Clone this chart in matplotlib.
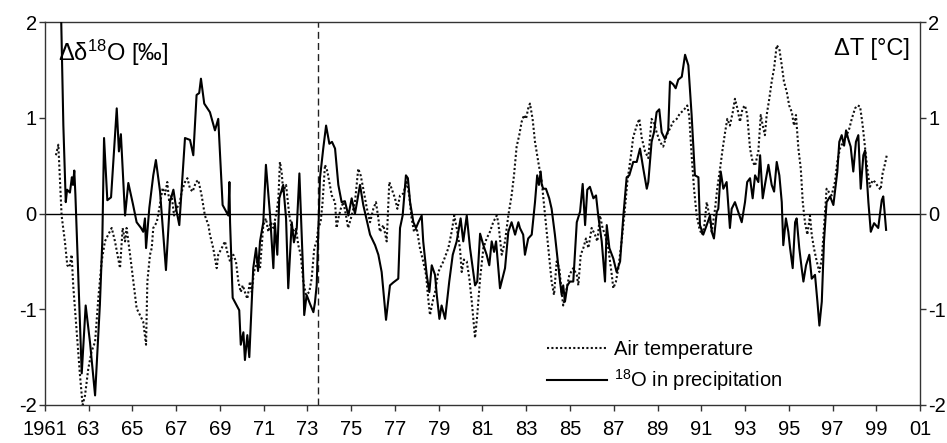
import matplotlib
matplotlib.use("Agg")
import matplotlib.pyplot as plt

plt.rcParams["font.family"] = ["Liberation Sans", "DejaVu Sans"]
plt.rcParams["mathtext.fontset"] = "custom"
plt.rcParams["mathtext.rm"] = "Liberation Sans"

# 18O in precipitation (deviation, permil)
o18_years = [
    1961.62, 1961.69, 1961.84, 1961.95, 1962.01, 1962.14, 1962.23, 1962.28, 1962.34, 1962.39,
    1962.68, 1962.86, 1963.06, 1963.29, 1963.51, 1963.62, 1963.70, 1963.85, 1964.02, 1964.28,
    1964.38, 1964.47, 1964.66, 1964.81, 1965.02, 1965.19, 1965.39, 1965.49, 1965.57, 1965.62,
    1965.77, 1965.95, 1966.07, 1966.26, 1966.53, 1966.71, 1966.87, 1967.02, 1967.14, 1967.29,
    1967.40, 1967.63, 1967.78, 1967.93, 1968.05, 1968.13, 1968.28, 1968.54, 1968.77, 1968.92,
    1969.12, 1969.38, 1969.43, 1969.46, 1969.58, 1969.88, 1969.95, 1970.07, 1970.14, 1970.25,
    1970.34, 1970.52, 1970.65, 1970.74, 1970.83, 1970.98, 1971.10, 1971.29, 1971.44, 1971.51,
    1971.62, 1971.71, 1971.89, 1972.02, 1972.12, 1972.28, 1972.38, 1972.51, 1972.63, 1972.70,
    1972.81, 1972.85, 1972.96, 1973.11, 1973.27, 1973.34, 1973.42, 1973.57, 1973.72, 1973.85,
    1974.00, 1974.12, 1974.26, 1974.41, 1974.56, 1974.71, 1974.87, 1975.02, 1975.17, 1975.28,
    1975.40, 1975.55, 1975.86, 1976.09, 1976.24, 1976.39, 1976.59, 1976.77, 1976.92, 1977.15,
    1977.23, 1977.35, 1977.50, 1977.59, 1977.69, 1977.84, 1977.96, 1978.07, 1978.22, 1978.29,
    1978.45, 1978.57, 1978.68, 1978.83, 1978.91, 1979.03, 1979.13, 1979.29, 1979.36, 1979.48,
    1979.64, 1979.82, 1980.00, 1980.12, 1980.28, 1980.43, 1980.66, 1980.76, 1980.89, 1981.04,
    1981.19, 1981.31, 1981.42, 1981.53, 1981.62, 1981.72, 1981.80, 1982.03, 1982.18, 1982.33,
    1982.49, 1982.64, 1982.71, 1982.86, 1982.94, 1983.09, 1983.25, 1983.40, 1983.50, 1983.58,
    1983.66, 1983.71, 1983.78, 1983.90, 1984.05, 1984.16, 1984.31, 1984.51, 1984.62, 1984.69,
    1984.77, 1984.88, 1985.00, 1985.15, 1985.31, 1985.46, 1985.58, 1985.69, 1985.79, 1985.91,
    1986.07, 1986.19, 1986.29, 1986.45, 1986.60, 1986.68, 1986.80, 1986.98, 1987.13, 1987.29,
    1987.44, 1987.59, 1987.71, 1987.89, 1988.05, 1988.20, 1988.35, 1988.51, 1988.58, 1988.73,
    1988.84, 1988.96, 1989.08, 1989.19, 1989.34, 1989.49, 1989.57, 1989.72, 1989.83, 1989.95,
    1990.11, 1990.26, 1990.41, 1990.56, 1990.71, 1990.87, 1990.94, 1991.09, 1991.25, 1991.40,
    1991.48, 1991.58, 1991.71, 1991.78, 1991.89, 1992.01, 1992.16, 1992.31, 1992.39, 1992.54,
    1992.69, 1992.85, 1993.00, 1993.10, 1993.23, 1993.35, 1993.46, 1993.61, 1993.69, 1993.81,
    1993.91, 1994.07, 1994.22, 1994.33, 1994.45, 1994.57, 1994.68, 1994.75, 1994.87, 1994.98,
    1995.06, 1995.18, 1995.29, 1995.36, 1995.48, 1995.59, 1995.67, 1995.79, 1995.94, 1996.05,
    1996.20, 1996.31, 1996.40, 1996.51, 1996.61, 1996.73, 1996.89, 1997.04, 1997.22, 1997.31,
    1997.42, 1997.53, 1997.62, 1997.72, 1997.83, 1997.95, 1998.07, 1998.18, 1998.29, 1998.41,
    1998.49, 1998.64, 1998.75, 1998.90, 1999.09, 1999.25, 1999.32, 1999.45,
]
o18_values = [
    2.60, 2.60, 0.92, 0.12, 0.25, 0.22, 0.38, 0.30, 0.45, 0.20,
    -1.67, -0.96, -1.35, -1.90, -0.95, -0.29, 0.79, 0.14, 0.17, 1.10,
    0.65, 0.83, -0.02, 0.32, 0.10, -0.09, -0.15, -0.19, -0.05, -0.36,
    0.06, 0.40, 0.56, 0.23, -0.59, 0.12, 0.25, 0.02, -0.12, 0.40,
    0.79, 0.77, 0.61, 1.24, 1.26, 1.41, 1.15, 1.06, 0.87, 0.99,
    0.09, -0.02, 0.33, -0.09, -0.88, -1.01, -1.37, -1.24, -1.53, -1.27,
    -1.50, -0.57, -0.36, -0.60, -0.29, -0.09, 0.51, -0.02, -0.57, -0.10,
    -0.43, 0.16, 0.30, -0.05, -0.78, -0.09, -0.30, -0.15, 0.42, 0.00,
    -0.68, -1.06, -0.85, -0.94, -1.03, -0.93, -0.75, 0.37, 0.68, 0.92,
    0.73, 0.75, 0.68, 0.30, 0.12, 0.13, -0.02, 0.16, 0.00, 0.14,
    0.30, 0.09, -0.22, -0.33, -0.43, -0.61, -1.11, -0.75, -0.72, -0.68,
    -0.15, -0.02, 0.40, 0.37, 0.12, -0.09, -0.15, -0.09, -0.02, -0.29,
    -0.64, -0.82, -0.54, -0.64, -0.85, -1.10, -0.96, -1.10, -0.96, -0.71,
    -0.43, -0.29, -0.05, -0.29, -0.02, -0.36, -0.75, -0.71, -0.21, -0.33,
    -0.43, -0.54, -0.29, -0.40, -0.29, -0.57, -0.78, -0.57, -0.19, -0.09,
    -0.22, -0.09, -0.15, -0.22, -0.43, -0.26, -0.22, 0.12, 0.40, 0.30,
    0.44, 0.30, 0.26, 0.26, 0.16, 0.05, -0.22, -0.64, -0.85, -0.75,
    -0.92, -0.75, -0.71, -0.71, -0.09, 0.02, 0.31, -0.12, 0.25, 0.28,
    0.16, 0.19, -0.02, -0.29, -0.71, -0.12, -0.36, -0.47, -0.61, -0.50,
    -0.02, 0.38, 0.40, 0.54, 0.54, 0.68, 0.47, 0.26, 0.33, 0.75,
    0.85, 1.06, 1.09, 0.85, 0.78, 0.87, 1.38, 1.35, 1.31, 1.40,
    1.43, 1.66, 1.55, 1.03, 0.40, 0.38, -0.12, -0.22, -0.12, -0.02,
    -0.19, -0.26, 0.02, 0.05, 0.44, 0.26, 0.33, -0.15, 0.05, 0.12,
    0.02, -0.09, 0.12, 0.33, 0.37, 0.16, 0.40, 0.33, 0.61, 0.16,
    0.30, 0.51, 0.30, 0.23, 0.54, 0.40, 0.12, -0.33, -0.05, -0.19,
    -0.36, -0.57, -0.09, -0.05, -0.36, -0.57, -0.71, -0.54, -0.43, -0.68,
    -0.64, -0.92, -1.17, -0.92, -0.29, 0.12, 0.18, 0.09, 0.44, 0.75,
    0.82, 0.71, 0.87, 0.78, 0.70, 0.44, 0.75, 0.82, 0.26, 0.61,
    0.66, 0.12, -0.19, -0.10, -0.15, 0.14, 0.18, -0.17,
]

# Air temperature (deviation, degC)
temp_years = [
    1961.50, 1961.61, 1961.76, 1961.91, 1962.02, 1962.12, 1962.22, 1962.29, 1962.45, 1962.60,
    1962.72, 1962.83, 1962.98, 1963.13, 1963.29, 1963.44, 1963.59, 1963.74, 1963.89, 1964.05,
    1964.20, 1964.35, 1964.43, 1964.55, 1964.66, 1964.73, 1964.89, 1965.04, 1965.19, 1965.34,
    1965.49, 1965.62, 1965.68, 1965.80, 1965.88, 1965.95, 1966.11, 1966.23, 1966.38, 1966.49,
    1966.59, 1966.68, 1966.79, 1966.90, 1967.02, 1967.14, 1967.25, 1967.40, 1967.51, 1967.63,
    1967.75, 1967.90, 1968.01, 1968.16, 1968.31, 1968.47, 1968.54, 1968.69, 1968.85, 1968.92,
    1969.08, 1969.23, 1969.33, 1969.46, 1969.61, 1969.73, 1969.84, 1969.95, 1970.04, 1970.14,
    1970.25, 1970.37, 1970.45, 1970.55, 1970.71, 1970.83, 1970.98, 1971.10, 1971.21, 1971.32,
    1971.44, 1971.59, 1971.67, 1971.74, 1971.82, 1971.89, 1972.02, 1972.17, 1972.32, 1972.47,
    1972.58, 1972.69, 1972.81, 1972.93, 1973.08, 1973.19, 1973.31, 1973.42, 1973.49, 1973.60,
    1973.69, 1973.80, 1973.91, 1974.00, 1974.11, 1974.26, 1974.33, 1974.41, 1974.52, 1974.64,
    1974.76, 1974.86, 1975.02, 1975.17, 1975.32, 1975.43, 1975.55, 1975.71, 1975.86, 1976.01,
    1976.13, 1976.24, 1976.31, 1976.47, 1976.62, 1976.74, 1976.89, 1977.00, 1977.11, 1977.23,
    1977.38, 1977.53, 1977.65, 1977.76, 1977.87, 1977.99, 1978.14, 1978.29, 1978.42, 1978.52,
    1978.60, 1978.72, 1978.83, 1978.98, 1979.21, 1979.44, 1979.59, 1979.71, 1979.82, 1979.97,
    1980.05, 1980.15, 1980.28, 1980.40, 1980.51, 1980.66, 1980.76, 1980.89, 1981.04, 1981.19,
    1981.34, 1981.49, 1981.65, 1981.72, 1981.88, 1982.03, 1982.18, 1982.33, 1982.44, 1982.56,
    1982.68, 1982.79, 1982.90, 1982.99, 1983.09, 1983.17, 1983.29, 1983.40, 1983.55, 1983.71,
    1983.86, 1984.01, 1984.16, 1984.27, 1984.39, 1984.51, 1984.62, 1984.69, 1984.82, 1984.97,
    1985.15, 1985.31, 1985.38, 1985.49, 1985.61, 1985.73, 1985.84, 1985.99, 1986.14, 1986.25,
    1986.37, 1986.49, 1986.60, 1986.75, 1986.91, 1986.98, 1987.10, 1987.21, 1987.36, 1987.51,
    1987.62, 1987.77, 1987.89, 1988.05, 1988.17, 1988.28, 1988.43, 1988.58, 1988.73, 1988.84,
    1988.96, 1989.11, 1989.26, 1989.42, 1989.57, 1989.72, 1989.88, 1990.03, 1990.15, 1990.26,
    1990.36, 1990.45, 1990.56, 1990.67, 1990.79, 1990.91, 1991.02, 1991.13, 1991.25, 1991.37,
    1991.48, 1991.63, 1991.73, 1991.86, 1991.98, 1992.09, 1992.19, 1992.31, 1992.44, 1992.54,
    1992.65, 1992.77, 1992.89, 1993.00, 1993.10, 1993.23, 1993.35, 1993.46, 1993.61, 1993.72,
    1993.81, 1993.91, 1993.99, 1994.11, 1994.22, 1994.33, 1994.45, 1994.57, 1994.68, 1994.78,
    1994.91, 1995.02, 1995.14, 1995.24, 1995.33, 1995.44, 1995.55, 1995.64, 1995.74, 1995.85,
    1995.97, 1996.05, 1996.15, 1996.28, 1996.40, 1996.51, 1996.61, 1996.73, 1996.85, 1996.96,
    1997.11, 1997.22, 1997.34, 1997.49, 1997.65, 1997.77, 1997.88, 1998.03, 1998.14, 1998.26,
    1998.38, 1998.49, 1998.59, 1998.71, 1998.84, 1998.94, 1999.09, 1999.20, 1999.29, 1999.40,
    1999.48,
]
temp_values = [
    0.61, 0.72, -0.02, -0.29, -0.54, -0.56, -0.43, -0.75, -1.24, -1.69,
    -2.00, -1.90, -1.62, -1.44, -1.34, -0.88, -0.50, -0.29, -0.22, -0.15,
    -0.29, -0.47, -0.57, -0.15, -0.29, -0.15, -0.43, -0.71, -0.99, -1.06,
    -1.13, -1.37, -0.71, -0.43, -0.36, -0.15, -0.09, 0.06, 0.27, 0.20,
    0.33, 0.12, 0.19, -0.02, 0.06, 0.09, 0.23, 0.33, 0.37, 0.26,
    0.23, 0.33, 0.35, 0.19, -0.02, -0.12, -0.22, -0.36, -0.57, -0.43,
    -0.36, -0.29, -0.40, -0.50, -0.43, -0.50, -0.71, -0.82, -0.75, -0.82,
    -0.89, -0.71, -0.82, -0.61, -0.50, -0.57, -0.12, -0.05, -0.19, -0.09,
    -0.15, 0.02, 0.16, 0.54, 0.43, 0.23, 0.30, -0.02, -0.19, -0.15,
    -0.33, -0.43, -0.71, -0.85, -0.82, -0.68, -0.36, -0.29, -0.15, -0.09,
    0.12, 0.51, 0.44, 0.33, 0.19, 0.12, -0.15, -0.05, 0.05, 0.12,
    -0.02, -0.15, -0.02, 0.12, 0.47, 0.40, 0.26, 0.06, -0.09, 0.05,
    0.12, -0.05, -0.19, -0.12, -0.29, 0.33, 0.23, 0.16, 0.05, 0.19,
    0.21, 0.33, 0.19, -0.05, -0.19, -0.15, -0.36, -0.50, -0.64, -0.89,
    -1.06, -0.92, -0.82, -0.61, -0.50, -0.36, -0.19, -0.02, -0.15, -0.36,
    -0.61, -0.48, -0.50, -0.68, -0.92, -1.30, -1.06, -0.68, -0.36, -0.26,
    -0.19, -0.09, -0.02, -0.09, -0.43, -0.29, -0.02, 0.19, 0.40, 0.70,
    0.82, 0.96, 1.03, 0.99, 1.10, 1.15, 0.99, 0.75, 0.54, 0.33,
    -0.02, -0.36, -0.71, -0.85, -0.50, -0.57, -0.82, -0.96, -0.82, -0.64,
    -0.57, -0.64, -0.75, -0.43, -0.36, -0.26, -0.36, -0.15, -0.22, -0.29,
    -0.02, -0.15, -0.22, -0.36, -0.64, -0.78, -0.71, -0.57, -0.29, 0.05,
    0.33, 0.58, 0.80, 0.92, 0.99, 0.79, 0.65, 0.58, 0.99, 0.95,
    0.85, 0.75, 0.70, 0.82, 0.89, 0.96, 0.99, 1.05, 1.07, 1.10,
    1.13, 1.02, 0.61, 0.26, -0.02, -0.15, -0.22, -0.15, 0.12, -0.02,
    -0.19, 0.05, 0.26, 0.47, 0.68, 0.85, 0.99, 0.92, 1.06, 1.20,
    1.10, 0.96, 1.10, 1.13, 1.03, 0.68, 0.54, 0.50, 0.65, 1.03,
    0.92, 0.82, 1.03, 1.20, 1.38, 1.52, 1.76, 1.72, 1.55, 1.38,
    1.27, 1.13, 1.06, 0.92, 1.03, 0.68, 0.47, 0.12, -0.09, -0.22,
    -0.02, -0.22, -0.36, -0.50, -0.61, -0.47, -0.15, 0.26, 0.22, 0.19,
    0.33, 0.54, 0.68, 0.75, 0.82, 0.89, 0.99, 1.10, 1.13, 1.12,
    0.92, 0.68, 0.47, 0.28, 0.35, 0.33, 0.28, 0.25, 0.42, 0.52,
    0.61,
]

x_ticks = list(range(1961, 2002, 2))
x_tick_labels = ["1961"] + ["%02d" % (y % 100) for y in x_ticks[1:]]
y_ticks = [-2, -1, 0, 1, 2]
divide_year = 1973.5

fig = plt.figure(figsize=(9.47, 4.43), dpi=100)
ax = fig.add_axes([0.0475, 0.0858, 0.924, 0.864])

ax.axhline(0, color="black", lw=1.0, zorder=1)
ax.axvline(divide_year, color="#222222", lw=1.0, ls=(0, (5, 3)), zorder=1)

ax.plot(temp_years, temp_values, color="#111111", lw=1.5, ls=(0, (1, 1.1)),
        label="Air temperature", zorder=2)
ax.plot(o18_years, o18_values, color="black", lw=1.5,
        label=r"$\mathregular{^{18}}$O in precipitation", zorder=3)

ax.set_xlim(1961, 2001)
ax.set_ylim(-2, 2)
ax.set_xticks(x_ticks)
ax.set_xticklabels(x_tick_labels)
ax.set_yticks(y_ticks)
ax.set_yticklabels([str(v) for v in y_ticks])
ax.tick_params(axis="both", direction="out", length=4, width=1, labelsize=14.5,
               color="#333333", labelcolor="black")
ax.tick_params(axis="y", right=True, labelright=True, pad=2)
ax.tick_params(axis="x", pad=7)
for side in ax.spines.values():
    side.set_linewidth(1.0)
    side.set_color("#333333")

ax.text(0.015, 0.96, r"Δδ$\mathregular{^{18}}$O [‰]", transform=ax.transAxes,
        fontsize=17, ha="left", va="top")
ax.text(0.988, 0.96, "ΔT [°C]", transform=ax.transAxes,
        fontsize=17, ha="right", va="top")

ax.legend(loc="lower left", bbox_to_anchor=(0.56, 0.0), frameon=False, fontsize=14.5,
          handlelength=3.0, handletextpad=0.3, labelspacing=0.4, borderaxespad=0.2)

fig.savefig("out.png", dpi=100)
